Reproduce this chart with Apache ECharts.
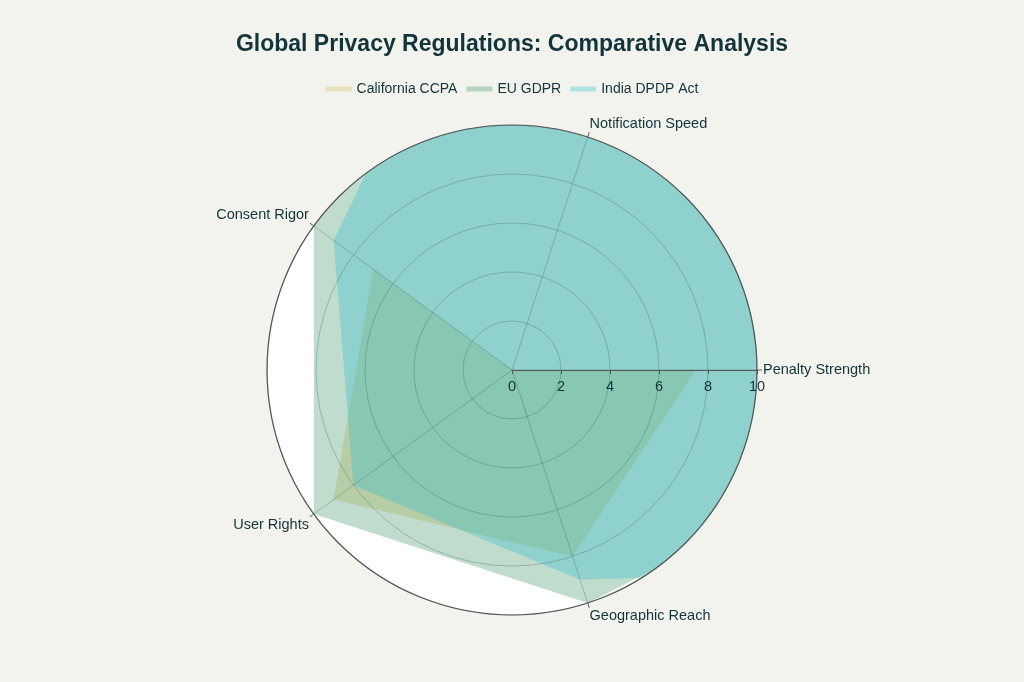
<!DOCTYPE html>
<html>
<head>
<meta charset="utf-8">
<script src="https://cdn.jsdelivr.net/npm/echarts@6/dist/echarts.min.js"></script>
<style>
html,body{margin:0;padding:0;background:#F3F3EE;}
#chart{width:1024px;height:682px;}
</style>
</head>
<body>
<div id="chart"></div>
<script>
const categories = ['Penalty Strength', 'Notification Speed', 'Consent Rigor', 'User Rights', 'Geographic Reach'];
const angles = [0, 72, 144, 216, 288];
const radialTicks = [0, 2, 4, 6, 8, 10];
const ccpa = [7.5, 0, 7, 9, 8];
const gdpr = [22, 72, 10, 10, 10];
const india = [250, 65, 9, 8, 9];
const seriesNames = ['California CCPA', 'EU GDPR', 'India DPDP Act'];
const seriesColors = ['#D2BA4C', '#2E8B57', '#1FB8CD'];

function toRgba(hex, a) {
  const n = parseInt(hex.slice(1), 16);
  return 'rgba(' + ((n >> 16) & 255) + ',' + ((n >> 8) & 255) + ',' + (n & 255) + ',' + a + ')';
}
function closedLoop(vals) {
  const pts = vals.map((v, i) => [v, angles[i]]);
  pts.push([vals[0], angles[0] + 360]);
  return pts;
}

const chart = echarts.init(document.getElementById('chart'));
const font = 'Liberation Sans, Arial, sans-serif';
const textColor = '#13343B';
const center = [512, 370];
const plotRadius = 245;

const dataSets = [ccpa, gdpr, india];
const series = dataSets.map((vals, i) => ({
  name: seriesNames[i],
  type: 'line',
  coordinateSystem: 'polar',
  data: closedLoop(vals),
  showSymbol: false,
  symbol: 'none',
  clip: true,
  lineStyle: { width: 0, color: toRgba(seriesColors[i], 0.3) },
  itemStyle: { color: toRgba(seriesColors[i], 0.3) },
  areaStyle: { color: toRgba(seriesColors[i], 0.3), opacity: 1 },
  silent: true,
  z: 2 + i
}));

chart.setOption({
  backgroundColor: '#F3F3EE',
  animation: false,
  graphic: [{
    type: 'circle',
    z: -10,
    silent: true,
    shape: { cx: center[0], cy: center[1], r: plotRadius },
    style: { fill: '#ffffff' }
  }],
  title: {
    text: 'Global Privacy Regulations: Comparative Analysis',
    left: 'center',
    top: 28,
    textStyle: { fontFamily: font, fontSize: 23, fontWeight: 'bold', color: textColor }
  },
  legend: {
    data: seriesNames.map((n, i) => ({ name: n, itemStyle: { color: toRgba(seriesColors[i], 0.3) } })),
    top: 77,
    left: 'center',
    icon: 'rect',
    itemWidth: 26,
    itemHeight: 5,
    itemGap: 9,
    textStyle: { fontFamily: font, fontSize: 14, color: textColor }
  },
  polar: { center: center, radius: plotRadius },
  angleAxis: {
    type: 'value',
    min: 0,
    max: 360,
    interval: 72,
    startAngle: 0,
    clockwise: false,
    z: 10,
    axisLine: { show: true, lineStyle: { color: '#5a5a5a', width: 1.2 } },
    axisTick: { show: true, inside: false, length: 5, lineStyle: { color: '#5a5a5a' } },
    splitLine: { show: true, lineStyle: { color: 'rgba(40,80,80,0.28)', width: 1 } },
    axisLabel: {
      show: true,
      margin: 6,
      fontFamily: font,
      fontSize: 14.5,
      color: textColor,
      formatter: function (v) {
        const idx = angles.indexOf(v);
        return idx >= 0 ? categories[idx] : '';
      }
    }
  },
  radiusAxis: {
    type: 'value',
    min: radialTicks[0],
    max: radialTicks[radialTicks.length - 1],
    interval: 2,
    z: 11,
    axisLine: { show: true, lineStyle: { color: '#555', width: 1.2 } },
    axisTick: { show: true, length: -4, lineStyle: { color: '#555' } },
    splitLine: { show: true, lineStyle: { color: 'rgba(40,80,80,0.28)', width: 1 } },
    axisLabel: { show: true, fontFamily: font, fontSize: 14.5, color: textColor, margin: -24 }
  },
  series: series
});
</script>
</body>
</html>
